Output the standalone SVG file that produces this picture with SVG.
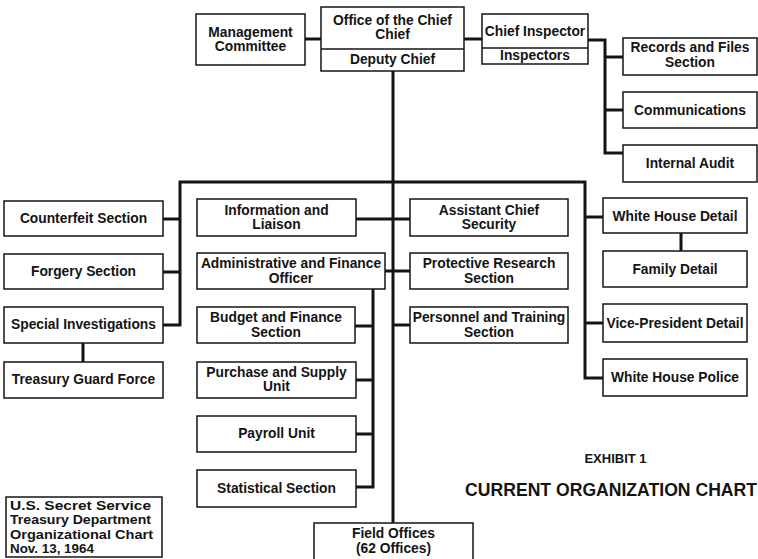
<svg xmlns="http://www.w3.org/2000/svg" width="758" height="559" viewBox="0 0 758 559">
<style>
.box{fill:#fff;stroke:#141414;stroke-width:1.5}
.t{font-family:"Liberation Sans",Arial,Helvetica,sans-serif;font-weight:bold;font-size:13.8px;text-anchor:middle;fill:#141414}
.l{font-family:"Liberation Sans",Arial,Helvetica,sans-serif;font-weight:bold;font-size:13.4px;text-anchor:start;fill:#141414}
.c{stroke:#141414;stroke-width:3;fill:none}
</style>
<rect x="0" y="0" width="758" height="559" fill="#fff"/>
<g id="connectors">
<path class="c" d="M305,39 H321"/>
<path class="c" d="M464,39 H482"/>
<path class="c" d="M588,40 H605 V153 H623"/>
<path class="c" d="M605,57 H623"/>
<path class="c" d="M605,110 H623"/>
<path class="c" d="M393,71 V523"/>
<path class="c" d="M163,325 H180 V182 H585 V378 H603"/>
<path class="c" d="M163,219 H180"/>
<path class="c" d="M163,272 H180"/>
<path class="c" d="M83,343 V362"/>
<path class="c" d="M356,219 H410"/>
<path class="c" d="M385,271 H410"/>
<path class="c" d="M393,325 H410"/>
<path class="c" d="M373,289 V487 H356"/>
<path class="c" d="M355,326 H373"/>
<path class="c" d="M356,380 H373"/>
<path class="c" d="M356,434 H373"/>
<path class="c" d="M585,217 H603"/>
<path class="c" d="M585,323 H603"/>
<path class="c" d="M681,233 V251"/>
</g>
<g id="management-committee">
<rect class="box" x="196" y="14" width="109" height="51"/>
<text class="t" x="250.5" y="37">Management</text>
<text class="t" x="250.5" y="51">Committee</text>
</g>
<g id="office-chief">
<rect class="box" x="321" y="7" width="143" height="64"/>
<line x1="321" y1="49" x2="464" y2="49" stroke="#141414" stroke-width="1.5"/>
<text class="t" x="392.5" y="25">Office of the Chief</text>
<text class="t" x="392.5" y="39">Chief</text>
<text class="t" x="392.5" y="64">Deputy Chief</text>
</g>
<g id="chief-inspector">
<rect class="box" x="482" y="14" width="106" height="50"/>
<line x1="482" y1="48" x2="588" y2="48" stroke="#141414" stroke-width="1.5"/>
<text class="t" x="535" y="36">Chief Inspector</text>
<text class="t" x="535" y="60">Inspectors</text>
</g>
<g id="records-files">
<rect class="box" x="623" y="38" width="134" height="37"/>
<text class="t" x="690" y="52">Records and Files</text>
<text class="t" x="690" y="67">Section</text>
</g>
<g id="communications">
<rect class="box" x="623" y="92" width="134" height="36"/>
<text class="t" x="690" y="115">Communications</text>
</g>
<g id="internal-audit">
<rect class="box" x="623" y="145" width="134" height="37"/>
<text class="t" x="690" y="168">Internal Audit</text>
</g>
<g id="counterfeit">
<rect class="box" x="4" y="201" width="159" height="35"/>
<text class="t" x="83.5" y="223">Counterfeit Section</text>
</g>
<g id="forgery">
<rect class="box" x="4" y="254" width="159" height="35"/>
<text class="t" x="83.5" y="276">Forgery Section</text>
</g>
<g id="special-investigations">
<rect class="box" x="4" y="307" width="159" height="36"/>
<text class="t" x="83.5" y="329">Special Investigations</text>
</g>
<g id="treasury-guard">
<rect class="box" x="4" y="362" width="159" height="36"/>
<text class="t" x="83.5" y="384">Treasury Guard Force</text>
</g>
<g id="information-liaison">
<rect class="box" x="197" y="199" width="159" height="37"/>
<text class="t" x="276.5" y="215">Information and</text>
<text class="t" x="276.5" y="229">Liaison</text>
</g>
<g id="assistant-chief">
<rect class="box" x="410" y="199" width="158" height="37"/>
<text class="t" x="489" y="215">Assistant Chief</text>
<text class="t" x="489" y="229">Security</text>
</g>
<g id="admin-finance">
<rect class="box" x="197" y="253" width="188" height="36"/>
<text class="t" x="291" y="268">Administrative and Finance</text>
<text class="t" x="291" y="283">Officer</text>
</g>
<g id="protective-research">
<rect class="box" x="410" y="253" width="158" height="36"/>
<text class="t" x="489" y="268">Protective Research</text>
<text class="t" x="489" y="283">Section</text>
</g>
<g id="budget-finance">
<rect class="box" x="197" y="307" width="158" height="36"/>
<text class="t" x="276" y="322">Budget and Finance</text>
<text class="t" x="276" y="337">Section</text>
</g>
<g id="personnel-training">
<rect class="box" x="410" y="307" width="158" height="36"/>
<text class="t" x="489" y="322">Personnel and Training</text>
<text class="t" x="489" y="337">Section</text>
</g>
<g id="purchase-supply">
<rect class="box" x="197" y="362" width="159" height="36"/>
<text class="t" x="276.5" y="377">Purchase and Supply</text>
<text class="t" x="276.5" y="391">Unit</text>
</g>
<g id="payroll">
<rect class="box" x="197" y="416" width="159" height="36"/>
<text class="t" x="276.5" y="438">Payroll Unit</text>
</g>
<g id="statistical">
<rect class="box" x="197" y="470" width="159" height="37"/>
<text class="t" x="276.5" y="493">Statistical Section</text>
</g>
<g id="field-offices">
<rect class="box" x="314" y="523" width="159" height="40"/>
<text class="t" x="393.5" y="538">Field Offices</text>
<text class="t" x="393.5" y="553">(62 Offices)</text>
</g>
<g id="white-house-detail">
<rect class="box" x="603" y="198" width="144" height="35"/>
<text class="t" x="675" y="221">White House Detail</text>
</g>
<g id="family-detail">
<rect class="box" x="603" y="251" width="144" height="36"/>
<text class="t" x="675" y="274">Family Detail</text>
</g>
<g id="vice-president-detail">
<rect class="box" x="603" y="304" width="144" height="38"/>
<text class="t" x="675" y="328">Vice-President Detail</text>
</g>
<g id="white-house-police">
<rect class="box" x="603" y="359" width="144" height="37"/>
<text class="t" x="675" y="382">White House Police</text>
</g>
<g id="legend">
<rect class="box" x="6" y="497" width="156" height="60"/>
<text class="l" x="10" y="509.5" textLength="141" lengthAdjust="spacingAndGlyphs">U.S. Secret Service</text>
<text class="l" x="10" y="524" textLength="141" lengthAdjust="spacingAndGlyphs">Treasury Department</text>
<text class="l" x="10" y="538.5" textLength="143" lengthAdjust="spacingAndGlyphs">Organizational Chart</text>
<text class="l" x="10" y="553">Nov. 13, 1964</text>
</g>
<g id="title">
<text class="t" x="615.5" y="463" style="font-size:13px">EXHIBIT 1</text>
<text class="t" x="757" y="496" style="font-size:17.6px;text-anchor:end">CURRENT ORGANIZATION CHART</text>
</g>
</svg>
